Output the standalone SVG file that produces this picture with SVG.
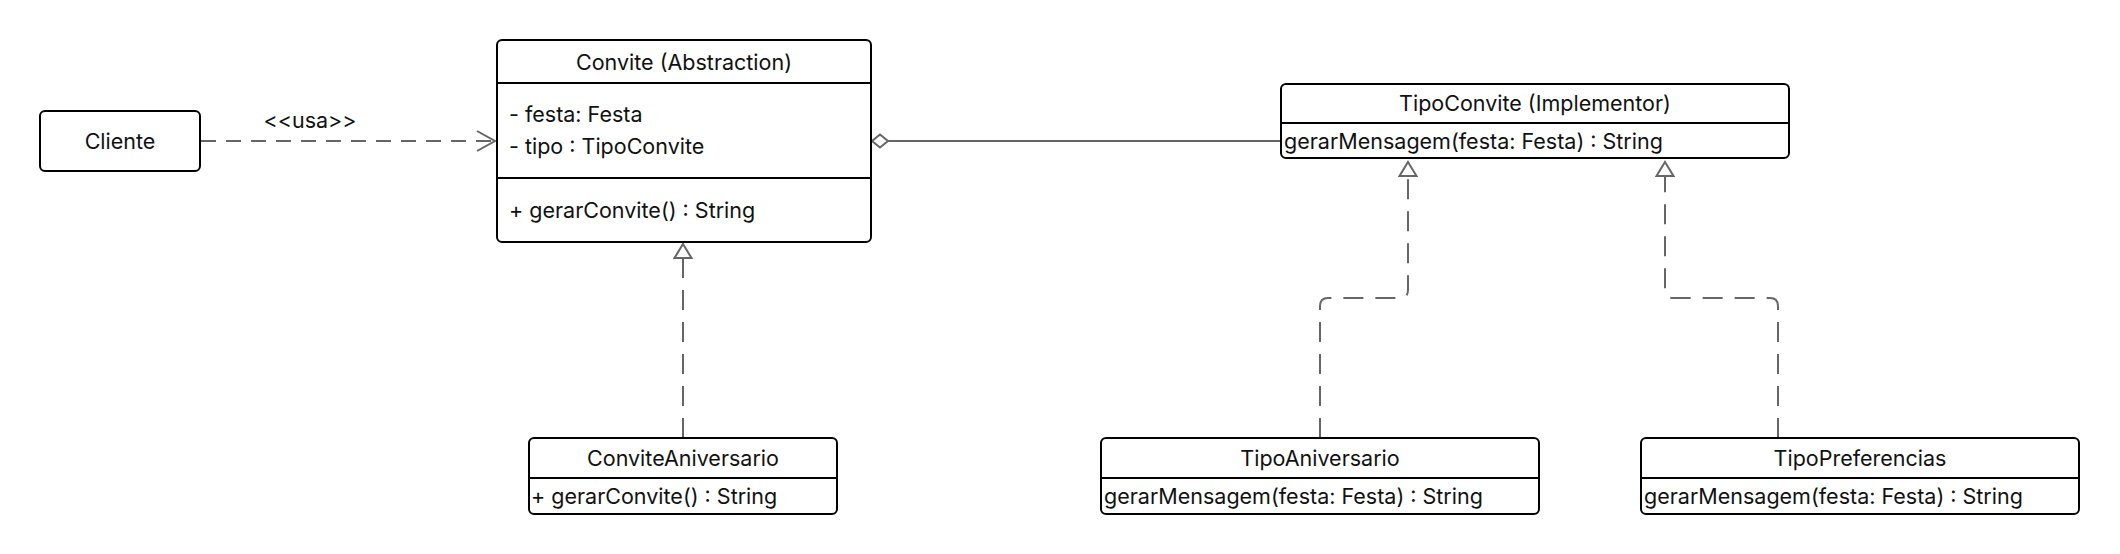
<svg xmlns="http://www.w3.org/2000/svg" width="2120" height="554" viewBox="0 0 2120 554">
<style>
.box{fill:#fff;stroke:#000;stroke-width:2}
.sep{stroke:#000;stroke-width:2}
.t{font-family:Inter,"Noto Sans","Liberation Sans",sans-serif;font-size:21.5px;fill:#111}
.c{text-anchor:middle}
.con{fill:none;stroke:#666;stroke-width:2}
.dv{stroke-dasharray:20 12}
.dh{stroke-dasharray:15 10}
</style>
<rect width="2120" height="554" fill="#fff"/>
<g id="connectors">
  <path class="con dh" d="M201 141 H494"/>
  <path class="con" d="M477 131 L495 141 L477 151"/>
  <text class="t c" x="310" y="128">&lt;&lt;usa&gt;&gt;</text>
  <path class="con" d="M888 141 H1280"/>
  <path class="con" d="M872 141 L880 134.5 L888 141 L880 147.5 Z" style="fill:#fff"/>
  <path class="con dv" d="M683 438 V258"/>
  <path class="con" d="M683 244 L691.5 258 L674.5 258 Z" style="fill:#fff"/>
  <path class="con dv" d="M1320 438 V306 Q1320 298 1328 298 H1400 Q1408 298 1408 290 V176"/>
  <path class="con" d="M1408 162 L1416.5 176 L1399.5 176 Z" style="fill:#fff"/>
  <path class="con dv" d="M1778 438 V306 Q1778 298 1770 298 H1673 Q1665 298 1665 290 V176"/>
  <path class="con" d="M1665 162 L1673.5 176 L1656.5 176 Z" style="fill:#fff"/>
</g>
<g id="cliente">
  <rect class="box" x="40" y="111" width="160" height="60" rx="5"/>
  <text class="t c" x="120" y="149">Cliente</text>
</g>
<g id="convite">
  <rect class="box" x="497" y="40" width="374" height="202" rx="5"/>
  <line class="sep" x1="497" y1="83" x2="871" y2="83"/>
  <line class="sep" x1="497" y1="178" x2="871" y2="178"/>
  <text class="t c" x="684" y="70">Convite (Abstraction)</text>
  <text class="t" x="509" y="122">- festa: Festa</text>
  <text class="t" x="509" y="154">- tipo : TipoConvite</text>
  <text class="t" x="509" y="218">+ gerarConvite() : String</text>
</g>
<g id="tipoConvite">
  <rect class="box" x="1281" y="84" width="508" height="74" rx="5"/>
  <line class="sep" x1="1281" y1="123" x2="1789" y2="123"/>
  <text class="t c" x="1535" y="111">TipoConvite (Implementor)</text>
  <text class="t" x="1284" y="149">gerarMensagem(festa: Festa) : String</text>
</g>
<g id="conviteAniversario">
  <rect class="box" x="529" y="438" width="308" height="76" rx="5"/>
  <line class="sep" x1="529" y1="478" x2="837" y2="478"/>
  <text class="t c" x="683" y="466">ConviteAniversario</text>
  <text class="t" x="531" y="504">+ gerarConvite() : String</text>
</g>
<g id="tipoAniversario">
  <rect class="box" x="1101" y="438" width="438" height="76" rx="5"/>
  <line class="sep" x1="1101" y1="478" x2="1539" y2="478"/>
  <text class="t c" x="1320" y="466">TipoAniversario</text>
  <text class="t" x="1104" y="504">gerarMensagem(festa: Festa) : String</text>
</g>
<g id="tipoPreferencias">
  <rect class="box" x="1641" y="438" width="438" height="76" rx="5"/>
  <line class="sep" x1="1641" y1="478" x2="2079" y2="478"/>
  <text class="t c" x="1860" y="466">TipoPreferencias</text>
  <text class="t" x="1644" y="504">gerarMensagem(festa: Festa) : String</text>
</g>
</svg>
